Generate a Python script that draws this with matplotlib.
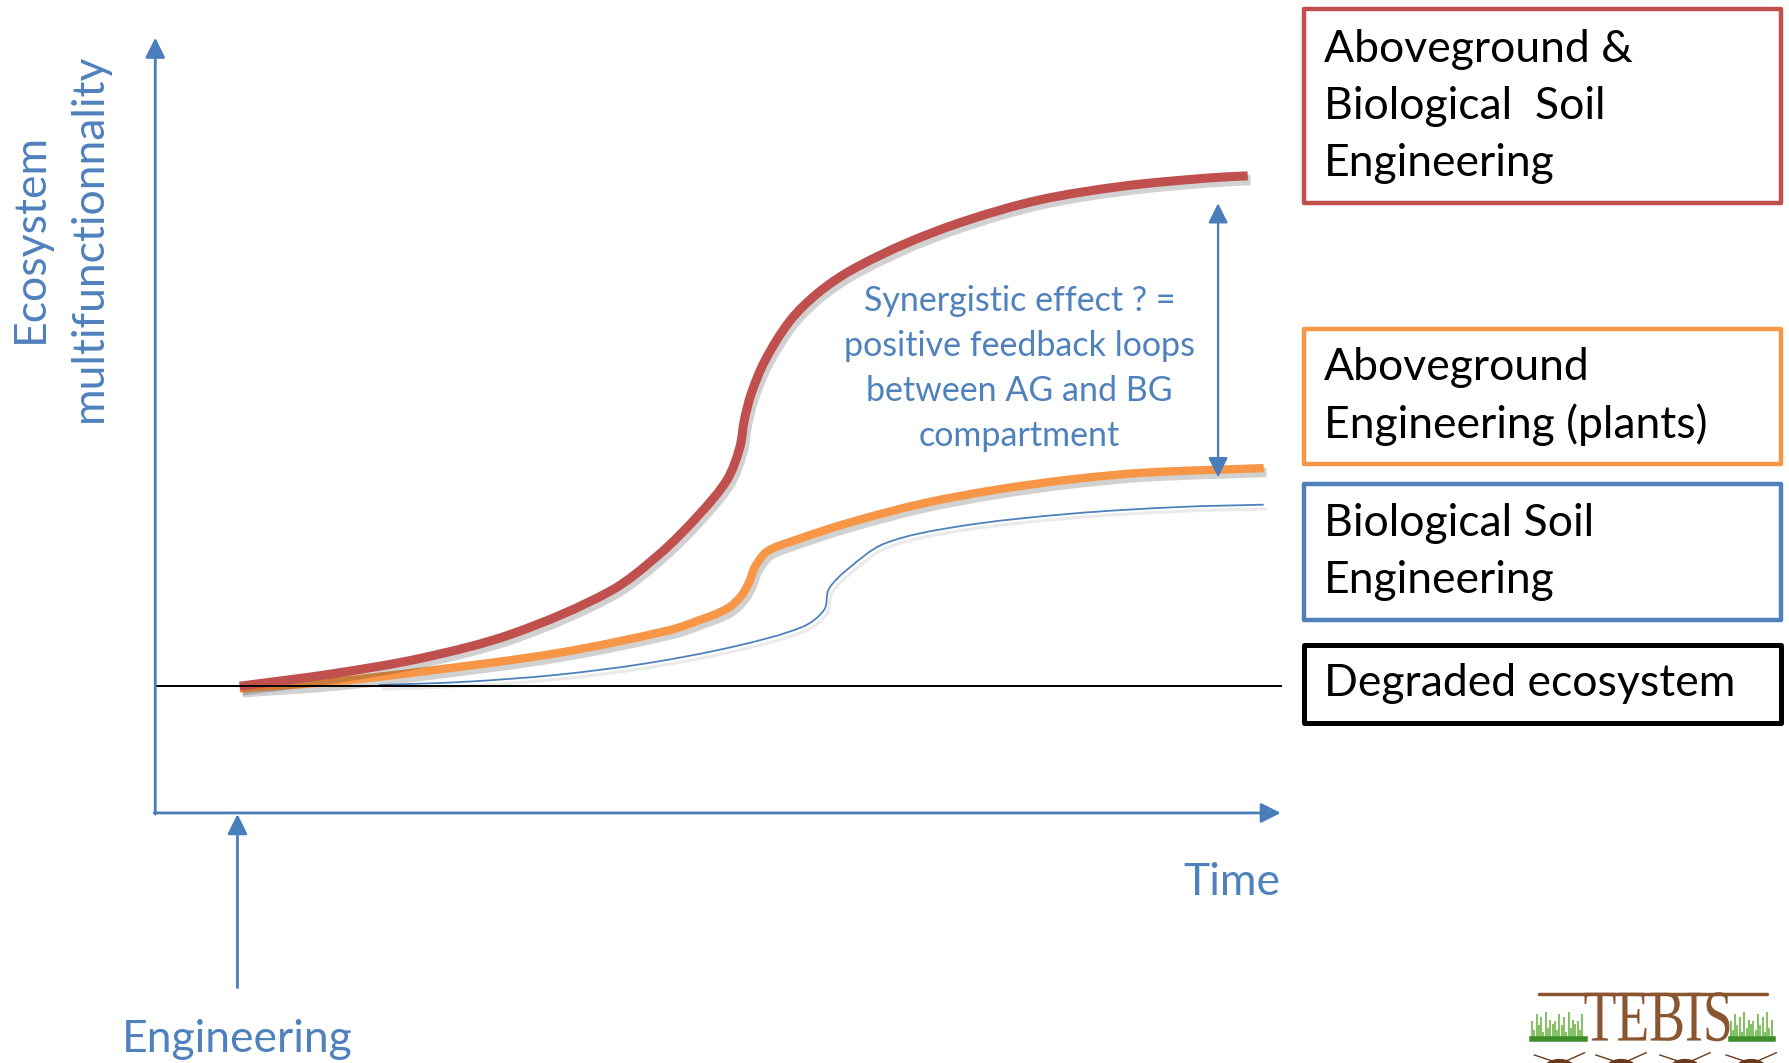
import matplotlib
matplotlib.use("Agg")
import matplotlib.pyplot as plt
import matplotlib.patches as patches
import matplotlib.patheffects as pe
from matplotlib.path import Path
from matplotlib.textpath import TextPath
from matplotlib.font_manager import FontProperties
from matplotlib.transforms import Affine2D
import numpy as np

plt.rcParams['font.family'] = ['Lato', 'DejaVu Sans']

# couleurs (thème Office)
RED = "#C0504D"
ORANGE = "#F79646"
BLUE = "#4F81BD"
AXIS_BLUE = "#4A7EBB"

# courbes (coordonnées du schéma, y vers le bas)
red_x = [210, 292, 371, 449, 534, 578, 613, 637, 648, 652, 658, 670, 692, 716, 745, 794, 847, 911, 984, 1057, 1093]
red_y = [601, 590, 576, 555, 518, 485, 450, 420, 392, 368, 345, 316, 281, 257, 237, 213, 193, 175, 163, 156, 154]

orange_x = [210, 292, 371, 488, 586, 613, 637, 650, 657, 661, 672, 694, 743, 808, 872, 937, 1002, 1107]
orange_y = [603, 597, 588, 572, 552, 543, 533, 521, 508, 497, 483, 474, 458, 441, 429, 420, 414, 410]

blue_x = [332, 410, 488, 566, 644, 703, 722, 726, 742, 775, 840, 937, 1034, 1107]
blue_y = [600, 597, 591, 581, 566, 549, 534, 516, 499, 476, 461, 450, 444, 442]

degraded_level = 601

# légendes (boîtes à droite)
box_labels = [
    ["Aboveground &", "Biological  Soil", "Engineering"],
    ["Aboveground", "Engineering (plants)"],
    ["Biological Soil", "Engineering"],
    ["Degraded ecosystem"],
]
box_colors = [RED, ORANGE, BLUE, "black"]
box_top = [8, 288, 424, 565]
box_bottom = [178, 406, 543, 633]

synergy_lines = ["Synergistic effect ? =", "positive feedback loops",
                 "between AG and BG", "compartment"]


def smooth_path(xs, ys):
    # courbe de Bézier passant par les points (tangentes pondérées par la longueur des cordes)
    pts = np.column_stack([xs, ys]).astype(float)
    n = len(pts)
    d = np.hypot(*np.diff(pts, axis=0).T)
    tang = np.zeros_like(pts)
    tang[0] = (pts[1] - pts[0]) / d[0]
    tang[-1] = (pts[-1] - pts[-2]) / d[-1]
    for i in range(1, n - 1):
        tang[i] = (pts[i + 1] - pts[i - 1]) / (d[i - 1] + d[i])
    verts = [pts[0]]
    codes = [Path.MOVETO]
    for i in range(n - 1):
        verts += [pts[i] + tang[i] * d[i] / 3, pts[i + 1] - tang[i + 1] * d[i] / 3, pts[i + 1]]
        codes += [Path.CURVE4] * 3
    return Path(verts, codes)


fig = plt.figure(figsize=(17.9, 10.63), dpi=100)
ax = fig.add_axes([0, 0, 1, 1])
ax.set_xlim(0, 1568)
ax.set_ylim(931, 0)
ax.axis("off")

# axes fléchés
arrow_kw = dict(arrowstyle="-|>,head_length=0.6,head_width=0.3", color=AXIS_BLUE,
                lw=2, shrinkA=0, shrinkB=0, mutation_scale=20)
ax.annotate("", xy=(136, 33), xytext=(136, 713), arrowprops=arrow_kw)
ax.annotate("", xy=(1122, 712), xytext=(135, 712), arrowprops=arrow_kw)
ax.annotate("", xy=(208, 713), xytext=(208, 865), arrowprops=arrow_kw)

# niveau dégradé
ax.plot([136, 1122], [degraded_level, degraded_level], color="black", lw=1.4)


def shadow(w, a):
    return [pe.SimpleLineShadow(offset=(2, -3), shadow_color="k", alpha=a, linewidth=w),
            pe.Normal()]


for xs, ys, col, lw, a in [(blue_x, blue_y, BLUE, 1.3, 0.08),
                           (orange_x, orange_y, ORANGE, 6.0, 0.18),
                           (red_x, red_y, RED, 6.5, 0.18)]:
    ax.add_patch(patches.PathPatch(smooth_path(xs, ys), fill=False, edgecolor=col, lw=lw,
                                   capstyle="butt", joinstyle="round",
                                   path_effects=shadow(lw + 1, a)))

# double flèche effet synergique
ax.annotate("", xy=(1067, 178), xytext=(1067, 418),
            arrowprops=dict(arrowstyle="<|-|>,head_length=0.6,head_width=0.3", color=AXIS_BLUE,
                            lw=1.6, shrinkA=0, shrinkB=0, mutation_scale=20))

for i, line in enumerate(synergy_lines):
    ax.text(893, 264 + i * 39.3, line, ha="center", va="center", fontsize=24.5, color=BLUE)

# textes des axes
BIG = 32
ax.text(27, 208, "Ecosystem", rotation=90, ha="center", va="center", fontsize=BIG, color=BLUE)
ax.text(78, 208, "multifunctionnality", rotation=90, ha="center", va="center", fontsize=BIG, color=BLUE)
ax.text(1122, 773, "Time", ha="right", va="center", fontsize=BIG, color=BLUE)
ax.text(208, 910, "Engineering", ha="center", va="center", fontsize=BIG, color=BLUE)

# boîtes de légende
for lines, col, top, bot in zip(box_labels, box_colors, box_top, box_bottom):
    ax.add_patch(patches.Rectangle((1142, top), 418, bot - top, fill=False, edgecolor=col,
                                   lw=3.6 if col == "black" else 3.2, joinstyle="round"))
    mid = (top + bot) / 2
    for i, line in enumerate(lines):
        ax.text(1160, mid + (i - (len(lines) - 1) / 2) * 50, line, ha="left", va="center",
                fontsize=BIG, color="black")

# logo TEBIS (en bas à droite)
BROWN = "#8A5530"
tp = TextPath((0, 0), "TEBIS", size=1, prop=FontProperties(family="Liberation Serif"))
ext = tp.get_extents()
tr = Affine2D().translate(-ext.x0, -ext.y0).scale(127 / ext.width, -43 / ext.height).translate(1388, 912)
ax.add_patch(patches.PathPatch(tp, transform=tr + ax.transData, facecolor=BROWN, edgecolor="none"))
ax.plot([1348, 1548], [871, 871], color=BROWN, lw=2.5, solid_capstyle="round")
grass_h = [18, 10, 24, 14, 21, 8, 26, 12, 19, 15]
for gx0, gx1 in [(1342, 1388), (1516, 1553)]:
    xs = np.arange(gx0, gx1, 2)
    hs = [grass_h[k % len(grass_h)] for k in range(len(xs))]
    ax.vlines(xs, [912] * len(xs), [912 - h for h in hs], color="#6DB547", lw=1.2)
    ax.plot([gx0, gx1], [910, 910], color="#3E8E2A", lw=4)
for bx in [1366, 1420, 1476, 1534]:
    ax.add_patch(patches.Ellipse((bx, 936), 26, 16, color="#6B3A1E"))
    ax.plot([bx - 4, bx - 22], [930, 924], color="#6B3A1E", lw=1)
    ax.plot([bx + 4, bx + 22], [930, 922], color="#6B3A1E", lw=1)

fig.savefig("out.png", dpi=100)
